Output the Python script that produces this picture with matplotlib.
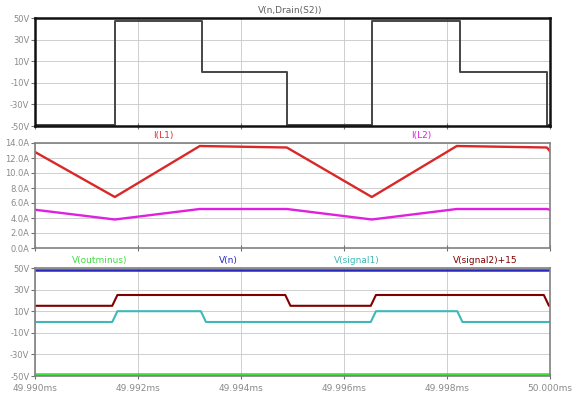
import numpy as np
import matplotlib
matplotlib.use("Agg")
import matplotlib.pyplot as plt
from matplotlib.ticker import FixedLocator, FuncFormatter

# time axis (ms)
xticks = [49.990, 49.992, 49.994, 49.996, 49.998, 50.000]

# top: V(n,Drain(S2))
vd_t = [49.990, 49.99155, 49.99324, 49.99489, 49.99654, 49.99825, 49.99994, 50.000]
vd_v = [-49, 47, 0, -49, 47, 0, -49, -49]

# middle: inductor currents
il_t = [49.99000, 49.99155, 49.99320, 49.99489, 49.99654, 49.99819, 49.99994, 50.00000]
il1 = [12.8, 6.8, 13.6, 13.4, 6.8, 13.6, 13.4, 12.9]
il2 = [5.1, 3.8, 5.2, 5.2, 3.8, 5.2, 5.2, 5.1]

# bottom: gate signals and rails
sig1_t = [49.990, 49.99150, 49.99160, 49.99322, 49.99332, 49.99652, 49.99662, 49.99820, 49.99830, 50.000]
sig1_v = [0, 0, 10, 10, 0, 0, 10, 10, 0, 0]
sig2_t = [49.990, 49.99150, 49.99160, 49.99486, 49.99496, 49.99652, 49.99662, 49.99988, 49.99998, 50.000]
sig2_v = [0, 0, 10, 10, 0, 0, 10, 10, 0, 0]
vn = 48
voutm = -49

GRID = "#c8c8c8"
TXT = "#8a8a8a"

fig = plt.figure(figsize=(5.74, 4.0), dpi=100)
L, W = 35 / 574, 515 / 574


def mk(top_px, bot_px):
    return fig.add_axes([L, 1 - bot_px / 400, W, (bot_px - top_px) / 400])


def style(ax, yt, fmt, spine_col, spine_lw, show_x=False):
    ax.set_xlim(49.990, 50.000)
    ax.xaxis.set_major_locator(FixedLocator(xticks))
    ax.yaxis.set_major_locator(FixedLocator(yt))
    ax.yaxis.set_major_formatter(FuncFormatter(fmt))
    ax.grid(True, color=GRID, lw=0.6)
    ax.set_axisbelow(True)
    for s in ax.spines.values():
        s.set_color(spine_col)
        s.set_linewidth(spine_lw)
    ax.tick_params(axis="y", direction="out", length=3, width=0.8, color="#707070",
                   labelsize=6, labelcolor=TXT, pad=1)
    ax.tick_params(axis="x", direction="inout", length=5, width=0.8, color="#707070",
                   labelsize=6.5, labelcolor=TXT, labelbottom=show_x, pad=3)
    ax.set_facecolor("white")


# top panel
ax1 = mk(18, 126)
ax1.set_ylim(-50, 50)
ax1.plot(vd_t, vd_v, drawstyle="steps-post", color="#454545", lw=1.4)
style(ax1, [50, 30, 10, -10, -30, -50], lambda v, p: f"{v:.0f}V", "#111111", 1.8)
ax1.text(0.495, 1.03, "V(n,Drain(S2))", transform=ax1.transAxes, ha="center",
         va="bottom", fontsize=6.5, color="#606060")

# middle panel
ax2 = mk(143, 248)
ax2.set_ylim(0, 14)
ax2.plot(il_t, il1, color="#d82828", lw=1.7)
ax2.plot(il_t, il2, color="#e020e0", lw=1.7)
style(ax2, [14, 12, 10, 8, 6, 4, 2, 0], lambda v, p: f"{v:.1f}A", "#808080", 1.2)
ax2.text(0.25, 1.03, "I(L1)", transform=ax2.transAxes, ha="center", va="bottom",
         fontsize=6.5, color="#e03030")
ax2.text(0.75, 1.03, "I(L2)", transform=ax2.transAxes, ha="center", va="bottom",
         fontsize=6.5, color="#e020e0")

# bottom panel
ax3 = mk(268, 376)
ax3.set_ylim(-50, 50)
ax3.axhline(vn, color="#2828c0", lw=1.8)
ax3.axhline(voutm, color="#40dd40", lw=2.6)
ax3.plot(sig1_t, sig1_v, color="#40b8b8", lw=1.5)
ax3.plot(sig2_t, np.array(sig2_v) + 15, color="#800000", lw=1.5)
style(ax3, [50, 30, 10, -10, -30, -50], lambda v, p: f"{v:.0f}V", "#808080", 1.2, show_x=True)
ax3.xaxis.set_major_formatter(FuncFormatter(lambda v, p: f"{v:.3f}ms"))
labels = [("V(outminus)", "#40dd40", 0.125), ("V(n)", "#2828c0", 0.375),
          ("V(signal1)", "#40b8b8", 0.625), ("V(signal2)+15", "#800000", 0.875)]
for txt, c, xp in labels:
    ax3.text(xp, 1.03, txt, transform=ax3.transAxes, ha="center", va="bottom",
             fontsize=6.5, color=c)

fig.savefig("out.png", dpi=100)
